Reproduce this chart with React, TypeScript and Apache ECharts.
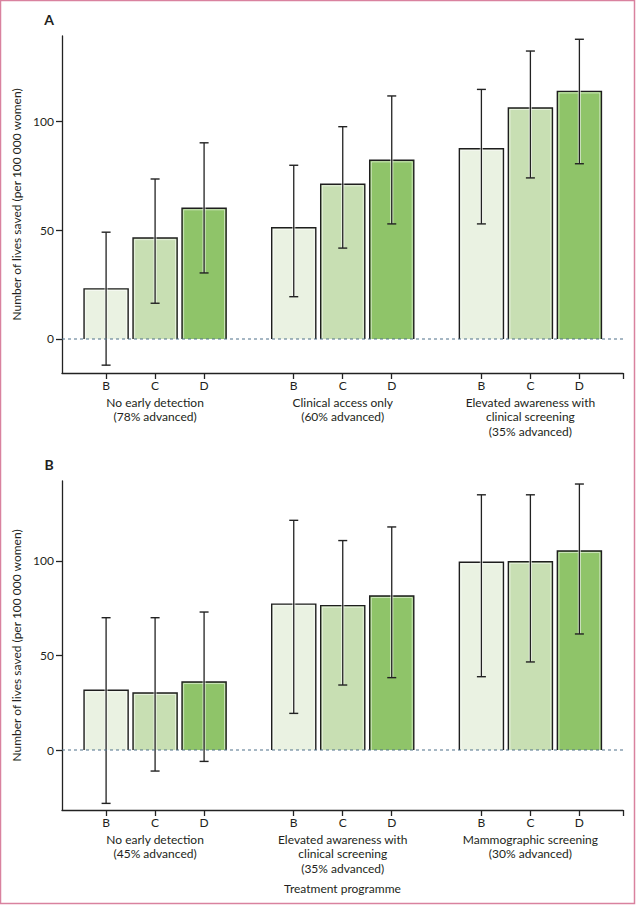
import React, { useEffect, useRef } from "react";
import * as echarts from "echarts";

// ---- data ----
const barLetters = ["B", "C", "D"];
const groupsA = [
  "No early detection\n(78% advanced)",
  "Clinical access only\n(60% advanced)",
  "Elevated awareness with\nclinical screening\n(35% advanced)",
];
const valuesA = [23, 46.3, 60, 51, 71, 82, 87.3, 106, 113.6];
const lowA = [-12, 16.4, 30.3, 19.4, 41.7, 52.8, 52.8, 73.9, 80.4];
const highA = [49, 73.4, 90, 79.7, 97.4, 111.5, 114.5, 132.1, 137.5];

const groupsB = [
  "No early detection\n(45% advanced)",
  "Elevated awareness with\nclinical screening\n(35% advanced)",
  "Mammographic screening\n(30% advanced)",
];
const valuesB = [31.6, 30.2, 36, 77.2, 76.4, 81.5, 99.3, 99.6, 105.3];
const lowB = [-28.2, -11.1, -6, 19.4, 34.4, 38.3, 38.8, 46.6, 61.4];
const highB = [70, 70, 73, 121.5, 110.8, 118, 135, 135, 140.7];

const yTicks = [0, 50, 100];
const yAxisTitle = "Number of lives saved (per 100 000 women)";
const xAxisTitle = "Treatment programme";
const panelLabels = ["A", "B"];

// ---- layout / style ----
const GROUP_STEP = 3.83;
const X_MIN = -0.9;
const X_MAX = 10.55;
const BAR_W = 0.9;
const fills = ["#eaf2e2", "#c8dfb3", "#8fc469"];
const INK = "#231f20";
const FONT = "Lato";

const pos = (g: number, i: number) => g * GROUP_STEP + i;
const barPositions: number[] = [];
for (let g = 0; g < 3; g++) for (let i = 0; i < 3; i++) barPositions.push(pos(g, i));
const groupCenters = [0, 1, 2].map((g) => pos(g, 1));

function letterFor(v: number) {
  for (let k = 0; k < barPositions.length; k++) {
    if (Math.abs(barPositions[k] - v) < 0.01) return barLetters[k % 3];
  }
  return "";
}
function groupFor(labels: string[], v: number) {
  for (let k = 0; k < groupCenters.length; k++) {
    if (Math.abs(groupCenters[k] - v) < 0.01) return labels[k];
  }
  return "";
}

function buildData(values: number[], lows: number[], highs: number[]) {
  return values.map((v, k) => [barPositions[k], v, lows[k], highs[k], k % 3]);
}

const renderBar = (params: any, api: any) => {
  const x = api.value(0);
  const v = api.value(1);
  const lo = api.value(2);
  const hi = api.value(3);
  const ci = api.value(4);
  const [cx, top] = api.coord([x, v]);
  const base = api.coord([x, 0])[1];
  const yLo = api.coord([x, lo])[1];
  const yHi = api.coord([x, hi])[1];
  const w = api.size([BAR_W, 0])[0];
  const l = cx - w / 2;
  const r = cx + w / 2;
  const cap = 4.5;
  return {
    type: "group",
    children: [
      { type: "rect", shape: { x: l, y: top, width: w, height: base - top }, style: { fill: fills[ci] } },
      {
        type: "polyline",
        shape: { points: [[l + 1.6, base], [l + 1.6, top + 1.6], [r - 1.6, top + 1.6], [r - 1.6, base]] },
        style: { stroke: "rgba(255,255,255,0.55)", lineWidth: 1, fill: null },
      },
      {
        type: "polyline",
        shape: { points: [[l, base], [l, top], [r, top], [r, base]] },
        style: { stroke: "#1e1e1e", lineWidth: 1.4, fill: null },
      },
      { type: "line", shape: { x1: cx, y1: yHi, x2: cx, y2: yLo }, style: { stroke: "rgba(255,255,255,0.6)", lineWidth: 3.2 } },
      { type: "line", shape: { x1: cx, y1: yHi, x2: cx, y2: yLo }, style: { stroke: "#222", lineWidth: 1.3 } },
      { type: "line", shape: { x1: cx - cap, y1: yHi, x2: cx + cap, y2: yHi }, style: { stroke: "#222", lineWidth: 1.4 } },
      { type: "line", shape: { x1: cx - cap, y1: yLo, x2: cx + cap, y2: yLo }, style: { stroke: "#222", lineWidth: 1.4 } },
    ],
  };
};

const textStyle = { fontFamily: FONT, fontSize: 12, color: INK };

function makeAxes(gi: number, yMin: number, yMax: number, groups: string[], withTitle: boolean) {
  const xMain = {
    type: "value",
    gridIndex: gi,
    min: X_MIN,
    max: X_MAX,
    position: "bottom",
    axisLine: { show: true, onZero: false, lineStyle: { color: "#222", width: 1.3 } },
    axisTick: { show: true, length: 6, customValues: [...barPositions, X_MAX], lineStyle: { color: "#222", width: 1.3 } },
    axisLabel: { ...textStyle, customValues: barPositions, margin: 6, formatter: (v: number) => letterFor(v) },
    splitLine: { show: false },
  };
  const xGroup: any = {
    type: "value",
    gridIndex: gi,
    min: X_MIN,
    max: X_MAX,
    position: "bottom",
    axisLine: { show: false, onZero: false },
    axisTick: { show: false },
    axisLabel: {
      ...textStyle,
      customValues: groupCenters,
      margin: 22,
      lineHeight: 14.5,
      formatter: (v: number) => groupFor(groups, v),
    },
    splitLine: { show: false },
  };
  if (withTitle) {
    xGroup.name = xAxisTitle;
    xGroup.nameLocation = "middle";
    xGroup.nameGap = 72;
    xGroup.nameTextStyle = { ...textStyle };
  }
  const y = {
    type: "value",
    gridIndex: gi,
    min: yMin,
    max: yMax,
    name: yAxisTitle,
    nameLocation: "middle",
    nameGap: 39,
    nameTextStyle: { ...textStyle },
    axisLine: { show: true, onZero: false, lineStyle: { color: "#222", width: 1.3 } },
    axisTick: { show: true, length: 6, customValues: yTicks, lineStyle: { color: "#222", width: 1.3 } },
    axisLabel: { ...textStyle, customValues: yTicks, margin: 8 },
    splitLine: { show: false },
  };
  return { xs: [xMain, xGroup], y };
}

export default function App() {
  const ref = useRef<HTMLDivElement>(null);
  useEffect(() => {
    if (!ref.current) return;
    const chart = echarts.init(ref.current, undefined, { renderer: "svg" });
    const a = makeAxes(0, -15.6, 139, groupsA, false);
    const b = makeAxes(1, -31.7, 142.3, groupsB, true);
    const zeroLine = (xi: number, yi: number) => ({
      type: "line",
      xAxisIndex: xi,
      yAxisIndex: yi,
      data: [[X_MIN, 0], [X_MAX, 0]],
      symbol: "none",
      silent: true,
      z: 5,
      lineStyle: { color: "#4f7089", width: 1.1, type: [3, 3] },
    });
    chart.setOption({
      animation: false,
      backgroundColor: "#ffffff",
      textStyle: { fontFamily: FONT },
      grid: [
        { left: 62, top: 36, width: 561, height: 337 },
        { left: 62, top: 481, width: 561, height: 329 },
      ],
      xAxis: [...a.xs, ...b.xs],
      yAxis: [a.y, b.y],
      series: [
        { type: "custom", xAxisIndex: 0, yAxisIndex: 0, renderItem: renderBar, data: buildData(valuesA, lowA, highA), z: 3 },
        zeroLine(0, 0),
        { type: "custom", xAxisIndex: 2, yAxisIndex: 1, renderItem: renderBar, data: buildData(valuesB, lowB, highB), z: 3 },
        zeroLine(2, 1),
      ],
      graphic: [
        {
          type: "rect",
          shape: { x: 0.5, y: 0.5, width: 634, height: 903 },
          style: { fill: null, stroke: "#d9829f", lineWidth: 1.5 },
          silent: true,
        },
        {
          type: "text",
          x: 49,
          y: 19,
          style: { text: panelLabels[0], font: `bold 14px ${FONT}`, fill: INK, align: "center", verticalAlign: "middle" },
        },
        {
          type: "text",
          x: 49,
          y: 464,
          style: { text: panelLabels[1], font: `bold 14px ${FONT}`, fill: INK, align: "center", verticalAlign: "middle" },
        },
      ],
    });
    return () => chart.dispose();
  }, []);
  return <div ref={ref} style={{ position: "fixed", left: 0, top: 0, width: 636, height: 905 }} />;
}
